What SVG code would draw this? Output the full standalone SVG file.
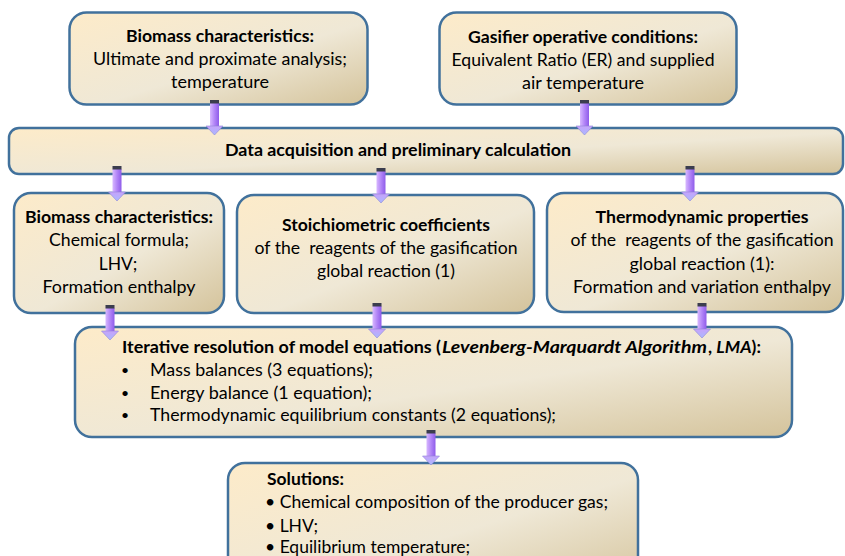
<svg xmlns="http://www.w3.org/2000/svg" xmlns:xlink="http://www.w3.org/1999/xlink" width="845" height="556" viewBox="0 0 845 556">
<defs>
<linearGradient id="boxfill" x1="0" y1="0" x2="1" y2="1">
<stop offset="0" stop-color="#FDEBC9"/>
<stop offset="0.55" stop-color="#EFE8D6"/>
<stop offset="1" stop-color="#D4C39B"/>
</linearGradient>
<linearGradient id="shaft" x1="0" y1="0" x2="1" y2="0">
<stop offset="0" stop-color="#D8B8FF"/>
<stop offset="0.5" stop-color="#B285F7"/>
<stop offset="1" stop-color="#8F5CEA"/>
</linearGradient>
<linearGradient id="head" x1="0" y1="0" x2="0" y2="1">
<stop offset="0" stop-color="#C7A2FA"/>
<stop offset="1" stop-color="#A9B9FF"/>
</linearGradient>
<g id="arrow">
<rect x="-4.5" y="3" width="9" height="24" fill="url(#shaft)"/>
<rect x="-4.5" y="0" width="9" height="3.5" fill="#3B3D4E"/>
<polygon points="-8.5,26 8.5,26 0,35" fill="url(#head)" stroke="#8E86D8" stroke-width="0.6"/>
</g>
</defs>
<style>
.box{fill:url(#boxfill);stroke:#41719C;stroke-width:2.5}
text{font-family:Lato,"Liberation Sans",Arial,sans-serif;font-size:17.5px;fill:#000;white-space:pre}
.b{font-weight:bold}
.bi{font-weight:bold;font-style:italic}
.c{text-anchor:middle}
.dot{font-size:14px}
</style>
<rect width="845" height="556" fill="#FFFFFF"/>

<g id="node-biomass-input">
<rect class="box" x="69.5" y="12.5" width="298" height="92" rx="17"/>
<text class="b c" x="220" y="42" textLength="188" lengthAdjust="spacingAndGlyphs">Biomass characteristics:</text>
<text class="c" x="220" y="65" textLength="254" lengthAdjust="spacingAndGlyphs">Ultimate and proximate analysis;</text>
<text class="c" x="220" y="88" textLength="98" lengthAdjust="spacingAndGlyphs">temperature</text>
</g>

<g id="node-gasifier">
<rect class="box" x="439.5" y="12.5" width="297" height="92" rx="17"/>
<text class="b c" x="583" y="43" textLength="230" lengthAdjust="spacingAndGlyphs">Gasifier operative conditions:</text>
<text class="c" x="583" y="66" textLength="263" lengthAdjust="spacingAndGlyphs">Equivalent Ratio (ER) and supplied</text>
<text class="c" x="583" y="89" textLength="122" lengthAdjust="spacingAndGlyphs">air temperature</text>
</g>

<g id="node-data">
<rect class="box" x="9" y="128" width="834" height="46" rx="10"/>
<text class="b c" x="398" y="156" textLength="346" lengthAdjust="spacingAndGlyphs">Data acquisition and preliminary calculation</text>
</g>

<g id="node-biomass-chem">
<rect class="box" x="14" y="193" width="210" height="120" rx="17"/>
<text class="b c" x="119" y="223" textLength="188" lengthAdjust="spacingAndGlyphs">Biomass characteristics:</text>
<text class="c" x="119" y="246" textLength="140" lengthAdjust="spacingAndGlyphs">Chemical formula;</text>
<text class="c" x="118" y="270">LHV;</text>
<text class="c" x="119" y="293" textLength="153" lengthAdjust="spacingAndGlyphs">Formation enthalpy</text>
</g>

<g id="node-stoich">
<rect class="box" x="237" y="195" width="297" height="118" rx="17"/>
<text class="b c" x="386" y="231" textLength="208" lengthAdjust="spacingAndGlyphs">Stoichiometric coefficients</text>
<text class="c" x="386" y="254" textLength="263" lengthAdjust="spacingAndGlyphs">of the  reagents of the gasification</text>
<text class="c" x="386" y="277" textLength="138" lengthAdjust="spacingAndGlyphs">global reaction (1)</text>
</g>

<g id="node-thermo">
<rect class="box" x="547" y="193" width="296" height="119" rx="17"/>
<text class="b c" x="702" y="223" textLength="213" lengthAdjust="spacingAndGlyphs">Thermodynamic properties</text>
<text class="c" x="702" y="246" textLength="263" lengthAdjust="spacingAndGlyphs">of the  reagents of the gasification</text>
<text class="c" x="702" y="270" textLength="145" lengthAdjust="spacingAndGlyphs">global reaction (1):</text>
<text class="c" x="702" y="293" textLength="258" lengthAdjust="spacingAndGlyphs">Formation and variation enthalpy</text>
</g>

<g id="node-iterative">
<rect class="box" x="75" y="327" width="717" height="110" rx="17"/>
<text class="b" x="122" y="353" textLength="319" lengthAdjust="spacingAndGlyphs">Iterative resolution of model equations (</text>
<text class="bi" x="442" y="353" textLength="265" lengthAdjust="spacingAndGlyphs">Levenberg-Marquardt Algorithm</text>
<text class="b" x="708" y="353">, <tspan class="bi">LMA</tspan>):</text>
<text class="dot" x="121" y="375">•</text>
<text x="150" y="376" textLength="223" lengthAdjust="spacingAndGlyphs">Mass balances (3 equations);</text>
<text class="dot" x="121" y="398">•</text>
<text x="150" y="399" textLength="222" lengthAdjust="spacingAndGlyphs">Energy balance (1 equation);</text>
<text class="dot" x="121" y="420">•</text>
<text x="150" y="421" textLength="406" lengthAdjust="spacingAndGlyphs">Thermodynamic equilibrium constants (2 equations);</text>
</g>

<g id="node-solutions">
<rect class="box" x="228" y="463" width="410" height="130" rx="17"/>
<text class="b" x="267" y="485" textLength="77" lengthAdjust="spacingAndGlyphs">Solutions:</text>
<text x="265" y="508" textLength="343" lengthAdjust="spacingAndGlyphs">• Chemical composition of the producer gas;</text>
<text x="265" y="532">• LHV;</text>
<text x="265" y="553" textLength="205" lengthAdjust="spacingAndGlyphs">• Equilibrium temperature;</text>
</g>

<g id="connectors">
<use xlink:href="#arrow" x="214.5" y="100"/>
<use xlink:href="#arrow" x="584.5" y="100"/>
<use xlink:href="#arrow" x="117" y="166"/>
<use xlink:href="#arrow" x="381" y="168"/>
<use xlink:href="#arrow" x="690" y="166"/>
<use xlink:href="#arrow" x="110" y="305"/>
<use xlink:href="#arrow" x="377" y="303"/>
<use xlink:href="#arrow" x="702" y="303"/>
<use xlink:href="#arrow" x="431" y="430"/>
</g>
</svg>
